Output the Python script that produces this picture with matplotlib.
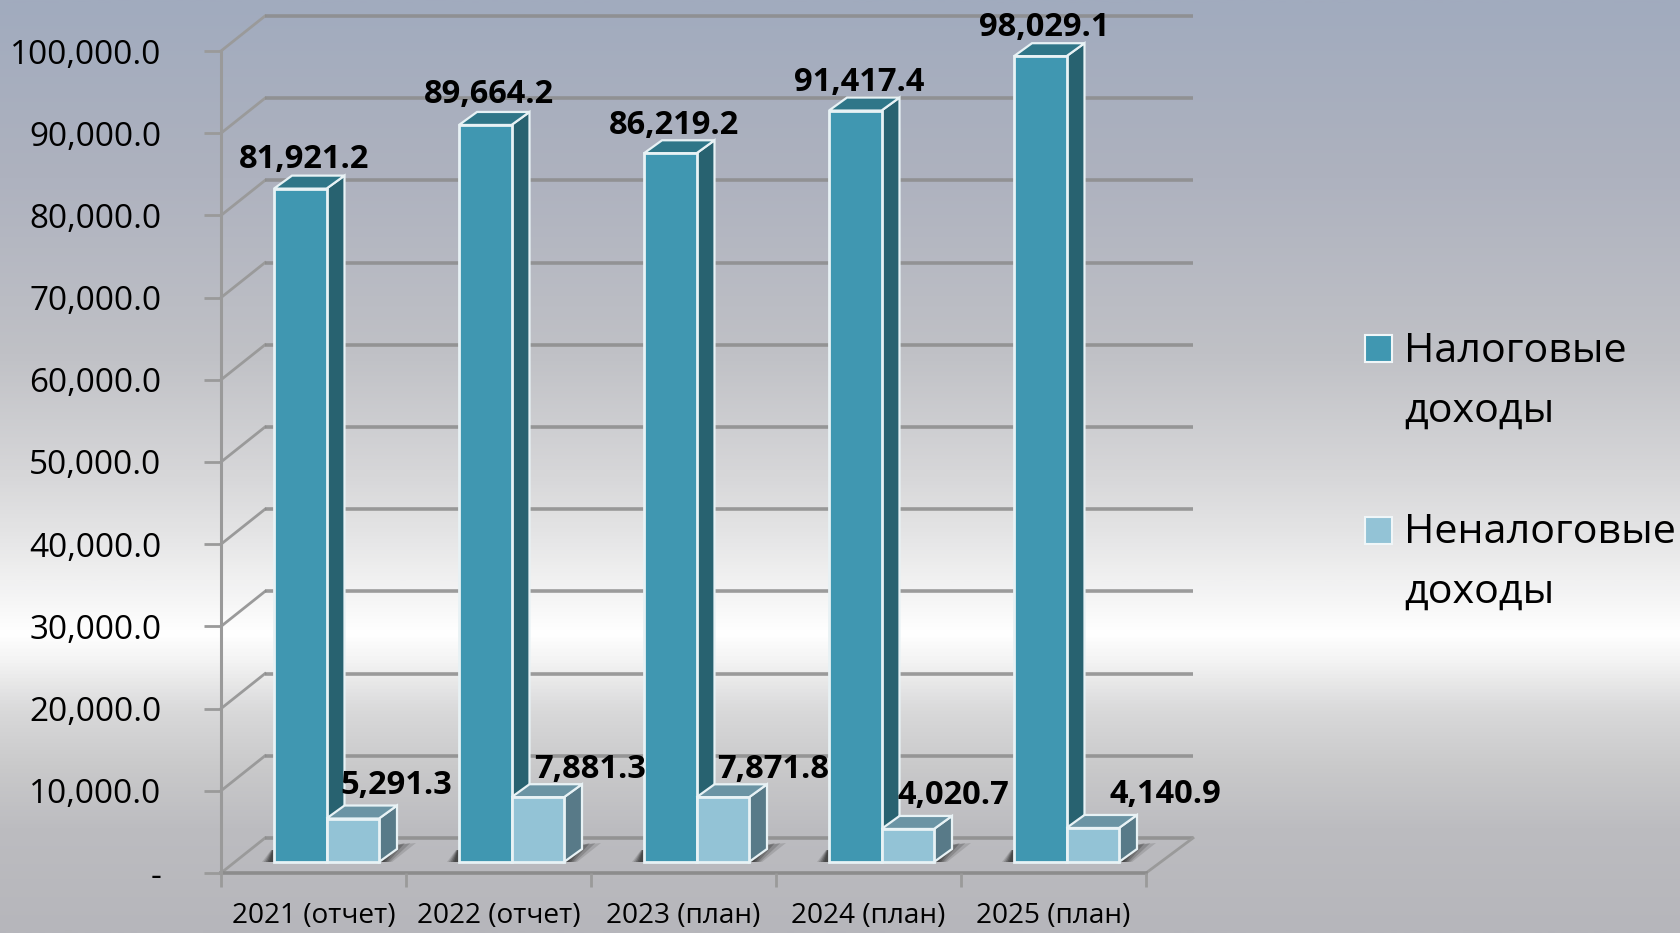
import matplotlib
matplotlib.use("Agg")
import matplotlib.pyplot as plt
import matplotlib.patches as mpatches
import matplotlib.transforms as mtrans
import numpy as np
from matplotlib.colors import LinearSegmentedColormap

categories = ["2021 (отчет)", "2022 (отчет)", "2023 (план)", "2024 (план)", "2025 (план)"]
tax_income = [81921.2, 89664.2, 86219.2, 91417.4, 98029.1]
nontax_income = [5291.3, 7881.3, 7871.8, 4020.7, 4140.9]
tax_labels = ["81,921.2", "89,664.2", "86,219.2", "91,417.4", "98,029.1"]
nontax_labels = ["5,291.3", "7,881.3", "7,871.8", "4,020.7", "4,140.9"]
y_ticks = [0, 10000, 20000, 30000, 40000, 50000, 60000, 70000, 80000, 90000, 100000]
y_tick_labels = ["-", "10,000.0", "20,000.0", "30,000.0", "40,000.0", "50,000.0",
                 "60,000.0", "70,000.0", "80,000.0", "90,000.0", "100,000.0"]

W, H = 1680, 933
plt.rcParams["font.family"] = ["Open Sans", "DejaVu Sans"]
fig = plt.figure(figsize=(W / 100, H / 100), dpi=100)

# background gradient
bg = fig.add_axes([0, 0, 1, 1], zorder=0)
stops = [(0, "#a1abbe"), (0.19, "#aeb2bf"), (0.38, "#c0c1c6"), (0.51, "#d7d7d9"), (0.57, "#e4e4e5"),
         (0.64, "#f5f5f5"), (0.68, "#ffffff"), (0.71, "#f3f3f3"), (0.765, "#d8d8d9"), (0.82, "#cacacb"),
         (0.89, "#bcbcc0"), (1, "#b6b6bb")]
cmap = LinearSegmentedColormap.from_list("bg", stops)
bg.imshow(np.linspace(0, 1, 512).reshape(-1, 1), cmap=cmap, aspect="auto", extent=[0, W, H, 0])
bg.set_xlim(0, W)
bg.set_ylim(H, 0)
bg.axis("off")

# front plane of the 3d chart
left, right, bottom, top = 221, 1146, 873, 51
ax = fig.add_axes([left / W, 1 - bottom / H, (right - left) / W, (bottom - top) / H], zorder=1)
ax.set_xlim(0, 5)
ax.set_ylim(0, 100000)
ax.patch.set_alpha(0)
for s in ax.spines.values():
    s.set_visible(False)

px = 5 / (right - left)
py = 100000 / (bottom - top)
grid = "#8c8c8c"

# walls
back_x, back_y = 44 * px, 35 * py
for t in y_ticks:
    ax.plot([0, back_x], [t, t + back_y], color="#9a9a9a", lw=2, clip_on=False, zorder=1)
    ax.plot([back_x, 5 + back_x + 3 * px], [t + back_y, t + back_y], color=grid, lw=2.6, alpha=0.85,
            clip_on=False, zorder=1, solid_capstyle="butt")
ax.plot([5, 5 + back_x + 3 * px], [0, back_y], color="#9a9a9a", lw=2, clip_on=False, zorder=1)
ax.plot([0, 5], [0, 0], color=grid, lw=2.6, clip_on=False, zorder=1)
ax.plot([0, 0], [0, 100000], color="#9a9a9a", lw=2.2, clip_on=False, zorder=1)

ax.set_xticks(range(6))
ax.set_xticklabels([])
ax.set_yticks(y_ticks)
ax.set_yticklabels(y_tick_labels, fontsize=24, color="black", va="center")
ax.tick_params(axis="y", length=12, width=2, color="#9a9a9a", pad=31)
ax.tick_params(axis="x", length=10, width=2, color="#9a9a9a")
# tick labels sit a little low in the original
shift = mtrans.ScaledTranslation(0, -4 / 100, fig.dpi_scale_trans)
for lab in ax.get_yticklabels():
    lab.set_transform(lab.get_transform() + shift)
for i, c in enumerate(categories):
    ax.text(i + 0.5, -5200, c, ha="center", va="center", fontsize=20.2, color="black", clip_on=False)

# bars
base = 11 * py
bar_w, light_w = 52.5 * px, 52.5 * px
start = 53 * px
dx, dy = 18 * px, 13 * py
white = "#e8f2f5"


def box(x, w, val, front, side, roof, z):
    t = base + val
    ax.bar(x, val, w, bottom=base, align="edge", color=front, edgecolor=white, lw=2, zorder=z + 1, clip_on=False)
    ax.add_patch(mpatches.Polygon([(x + w, base), (x + w + dx, base + dy), (x + w + dx, t + dy), (x + w, t)],
                                  fc=side, ec=white, lw=1.6, zorder=z, clip_on=False))
    ax.add_patch(mpatches.Polygon([(x, t), (x + dx, t + dy), (x + w + dx, t + dy), (x + w, t)],
                                  fc=roof, ec=white, lw=1.6, zorder=z, clip_on=False))


tax_off = [(4, 29), (4, 30), (4, 28), (4, 28), (4, 29)]
non_off = [(44, 33), (52, 28), (50, 28), (46, 33), (73, 33)]
for i in range(len(categories)):
    x0 = i + start
    x1 = x0 + bar_w
    xr = x1 + light_w
    # floor shadow, darker towards the bar
    for k, a in [(1.0, 0.14), (0.85, 0.2), (0.7, 0.26), (0.55, 0.3), (0.4, 0.3)]:
        ax.add_patch(mpatches.Polygon([(xr, base), (xr + 13 * px * k, base), (xr + 37 * px * k, base + 19 * py),
                                       (xr + dx, base + 17 * py), (xr + dx, base + dy)],
                                      fc="#222222", ec="none", alpha=a, zorder=2, clip_on=False))
        ax.add_patch(mpatches.Polygon([(x0, base), (x0 - 12 * px * k, base), (x0 - 3 * px * k, base + 12 * py),
                                       (x0, base + 12 * py)],
                                      fc="#222222", ec="none", alpha=a, zorder=2, clip_on=False))
    box(x0, bar_w, tax_income[i], "#4097b1", "#286270", "#2f7688", 3)
    box(x1, light_w, nontax_income[i], "#93c3d6", "#587a88", "#6b94a4", 5)
    ax.text(x0 + bar_w / 2 + tax_off[i][0] * px, base + tax_income[i] + tax_off[i][1] * py, tax_labels[i],
            ha="center", va="center", fontsize=23.5, fontweight="bold", color="black", zorder=9, clip_on=False)
    ax.text(x1 + light_w / 2 + non_off[i][0] * px, base + nontax_income[i] + non_off[i][1] * py, nontax_labels[i],
            ha="center", va="center", fontsize=23.5, fontweight="bold", color="black", zorder=9, clip_on=False)

# legend
lg = fig.add_axes([0, 0, 1, 1], zorder=2)
lg.set_xlim(0, W)
lg.set_ylim(H, 0)
lg.axis("off")
lg.add_patch(mpatches.Rectangle((1365, 335), 27, 27, fc="#4097b1", ec="#f0f6f8", lw=1.5))
lg.add_patch(mpatches.Rectangle((1365, 517), 27, 27, fc="#93c3d6", ec="#f0f6f8", lw=1.5))
for y, s in [(362, "Налоговые"), (422, "доходы"), (543, "Неналоговые"), (603, "доходы")]:
    lg.text(1404, y, s, fontsize=29.7, va="baseline", ha="left", color="black")

fig.savefig("out.png", dpi=100)
